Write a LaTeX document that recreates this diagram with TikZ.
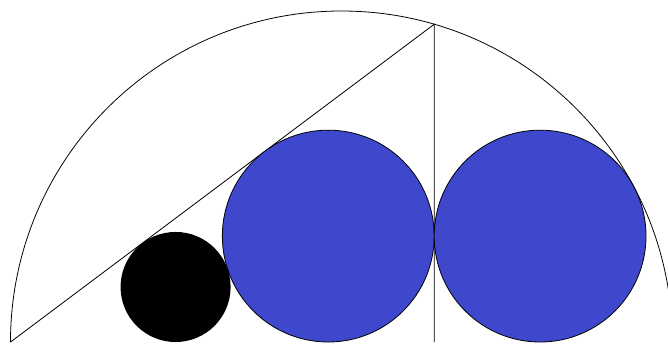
\documentclass[tikz,border=0pt]{standalone}
\usepackage{tikz}
\definecolor{indigo}{HTML}{3F48CC}

\begin{document}
\begin{tikzpicture}[x=0.02cm, y=0.02cm, line width=0.45pt]
    \useasboundingbox (-341.5,-1) rectangle (326.5,342);
    \pgfmathsetmacro{\R}{331}
    \pgfmathsetmacro{\rb}{0.32*\R}
    \pgfmathsetmacro{\rs}{0.16625*\R}
    \coordinate (O) at (0,0);
    \coordinate (A) at (-\R,0);
    \coordinate (E) at (\R,0);
    \coordinate (P) at (0.28*\R,0.96*\R);
    \coordinate (D) at (0.28*\R,0);
    \draw (E) arc[start angle=0, end angle=180, radius=\R];
    \draw (A) -- (P) -- (D);
    \foreach \cx in {-0.04, 0.6}
        \filldraw[fill=indigo] (\cx*\R,\rb) circle[radius=\rb];
    \fill[black] (-0.50125*\R,\rs) circle[radius=\rs];
\end{tikzpicture}
\end{document}
